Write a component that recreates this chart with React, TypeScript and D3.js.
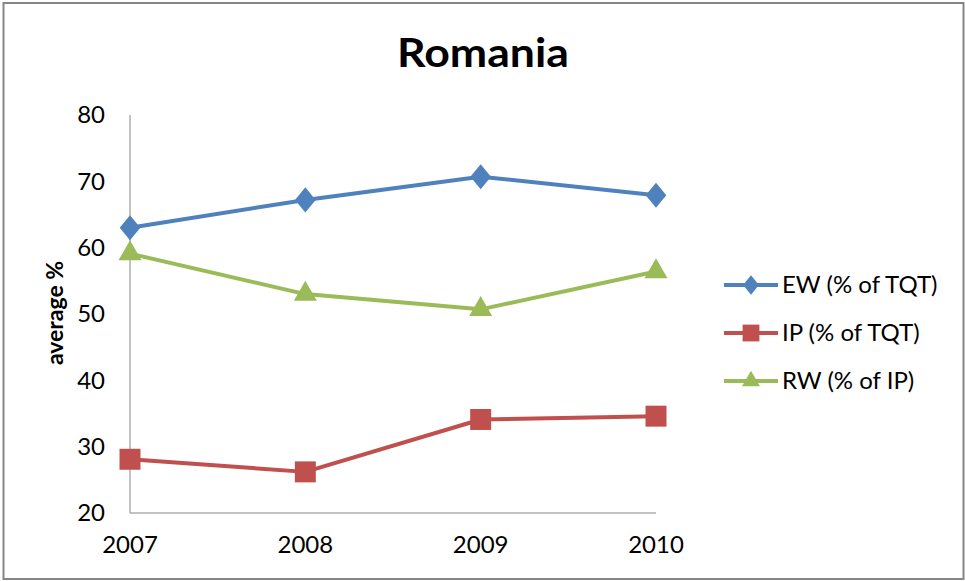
import React from "react";
import * as d3 from "d3";

const years = ["2007", "2008", "2009", "2010"];
const ew = [63.0, 67.2, 70.7, 67.9];
const ip = [28.1, 26.2, 34.1, 34.6];
const rw = [59.1, 53.0, 50.7, 56.4];
const yTicks = [20, 30, 40, 50, 60, 70, 80];
const seriesNames = ["EW (% of TQT)", "IP (% of TQT)", "RW (% of IP)"];
const seriesColors = ["#4F81BD", "#C0504D", "#9BBB59"];
const seriesShapes = ["diamond", "square", "triangle"];

const W = 965;
const H = 581;
const FONT = "Lato, 'Open Sans', sans-serif";

function Marker({ shape, x, y, size, color }: { shape: string; x: number; y: number; size: number; color: string }) {
  const sym =
    shape === "diamond" ? d3.symbolDiamond2 : shape === "square" ? d3.symbolSquare2 : d3.symbolTriangle2;
  const path = d3.symbol().type(sym).size(size)();
  const sy = shape === "diamond" ? 1.12 : 1;
  const sx = shape === "diamond" ? 0.92 : 1;
  return <path d={path || ""} transform={`translate(${x},${y}) scale(${sx},${sy})`} fill={color} stroke="none" />;
}

export default function App() {
  const x = d3.scalePoint<string>().domain(years).range([130, 656]);
  const y = d3.scaleLinear().domain([20, 80]).range([513, 115]);
  const data = [ew, ip, rw];
  const line = d3
    .line<number>()
    .x((_, i) => x(years[i]) as number)
    .y((v) => y(v));
  const legendY = [285, 333, 381];
  const markerSizes = [320, 560, 380];
  const legendMarkerSizes = [190, 360, 230];

  return (
    <div style={{ position: "fixed", left: 0, top: 0, width: W, height: H, background: "#fff" }}>
      <svg width={W} height={H} style={{ display: "block" }}>
        <rect x={0} y={0} width={W} height={H} fill="#fff" />
        <rect x={3.5} y={3} width={960} height={576} fill="#fff" stroke="#868686" strokeWidth={2} />
        <text x={483} y={67} textAnchor="middle" fontFamily={FONT} fontWeight="bold" fontSize={40} fill="#000" textLength={172} lengthAdjust="spacingAndGlyphs">
          Romania
        </text>
        {/* axes */}
        <line x1={130} x2={130} y1={y(80)} y2={y(20)} stroke="#868686" strokeWidth={1} />
        <line x1={130} x2={656} y1={y(20)} y2={y(20)} stroke="#868686" strokeWidth={1} />
        {yTicks.map((t) => (
          <text key={t} x={105} y={y(t)} dy="0.35em" textAnchor="end" fontFamily={FONT} fontSize={24} fill="#000">
            {t}
          </text>
        ))}
        {years.map((yr) => (
          <text key={yr} x={x(yr) as number} y={553} textAnchor="middle" fontFamily={FONT} fontSize={24} fill="#000">
            {yr}
          </text>
        ))}
        <text
          transform={`translate(63,313) rotate(-90)`}
          textAnchor="middle"
          fontFamily={FONT}
          fontWeight="bold"
          fontSize={23}
          fill="#000"
        >
          average %
        </text>
        {data.map((vals, si) => (
          <g key={si}>
            <path d={line(vals) || ""} fill="none" stroke={seriesColors[si]} strokeWidth={4} strokeLinejoin="round" />
            {vals.map((v, i) => (
              <Marker key={i} shape={seriesShapes[si]} x={x(years[i]) as number} y={y(v)} size={markerSizes[si]} color={seriesColors[si]} />
            ))}
          </g>
        ))}
        {/* legend */}
        {seriesNames.map((n, si) => (
          <g key={n}>
            <line x1={724} x2={778} y1={legendY[si]} y2={legendY[si]} stroke={seriesColors[si]} strokeWidth={4} />
            <Marker shape={seriesShapes[si]} x={751} y={legendY[si]} size={legendMarkerSizes[si]} color={seriesColors[si]} />
            <text x={782} y={legendY[si]} dy="0.35em" fontFamily={FONT} fontSize={24} fill="#000">
              {n}
            </text>
          </g>
        ))}
      </svg>
    </div>
  );
}
